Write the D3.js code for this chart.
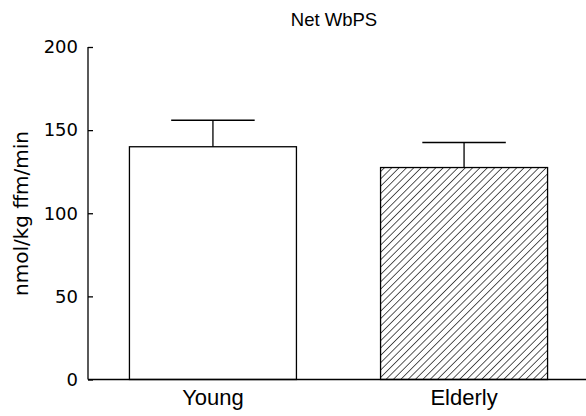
<!DOCTYPE html>
<html><head><meta charset="utf-8">
<script src="https://cdn.jsdelivr.net/npm/d3@7"></script>
<style>
html,body{margin:0;padding:0;background:#fff;}
text{fill:#000;}
</style></head>
<body>
<script>
const categories = ["Young", "Elderly"];
const means = [140, 127.5];
const errors = [16, 15];
const yTicks = [0, 50, 100, 150, 200];
const title = "Net WbPS";
const yLabel = "nmol/kg ffm/min";

const W = 586, H = 416;
const svg = d3.select("body").append("svg").attr("width", W).attr("height", H);
const sans = "'Liberation Sans', Arial, Helvetica, sans-serif";
const dv = "'DejaVu Sans', sans-serif";

const defs = svg.append("defs");
const pat = defs.append("pattern").attr("id","hatch").attr("patternUnits","userSpaceOnUse")
  .attr("width",5.2).attr("height",5.2).attr("patternTransform","rotate(45)");
pat.append("rect").attr("width",5.2).attr("height",5.2).attr("fill","#fff");
pat.append("line").attr("x1",0).attr("y1",0).attr("x2",0).attr("y2",5.2).attr("stroke","#000").attr("stroke-width",1.3);

const x = d3.scaleBand().domain(categories).range([88, 589]).paddingInner(0.335).paddingOuter(0.165);
const y = d3.scaleLinear().domain([0, 200]).range([379.5, 47]);

// bars
svg.selectAll("rect.bar").data(categories).enter().append("rect")
  .attr("x", d => x(d)).attr("width", x.bandwidth())
  .attr("y", (d,i) => y(means[i])).attr("height", (d,i) => y(0) - y(means[i]))
  .attr("fill", (d,i) => i === 0 ? "#fff" : "url(#hatch)")
  .attr("stroke", "#000").attr("stroke-width", 1.3);

// error bars
categories.forEach((c,i) => {
  const cx = x(c) + x.bandwidth()/2;
  const capW = x.bandwidth()/2;
  svg.append("line").attr("x1",cx).attr("x2",cx).attr("y1",y(means[i])).attr("y2",y(means[i]+errors[i]))
    .attr("stroke","#000").attr("stroke-width",1.3);
  svg.append("line").attr("x1",cx-capW/2).attr("x2",cx+capW/2).attr("y1",y(means[i]+errors[i])).attr("y2",y(means[i]+errors[i]))
    .attr("stroke","#000").attr("stroke-width",1.5);
});

// y axis
const yAxis = svg.append("g").attr("transform","translate(88,0)")
  .call(d3.axisLeft(y).tickValues(yTicks).tickSize(-5).tickPadding(10));
yAxis.attr("font-family", null).attr("font-size", null);
yAxis.select(".domain").attr("d", `M0,${y(200)}V${y(0)}`).attr("stroke-width",1.3);
yAxis.selectAll(".tick line").attr("stroke-width",1.3);
yAxis.selectAll(".tick text").style("font-family", dv).style("font-size","18px");

// x axis
const xAxis = svg.append("g").attr("transform",`translate(0,${y(0)})`)
  .call(d3.axisBottom(x).tickSize(0).tickPadding(0));
xAxis.attr("font-family", null).attr("font-size", null);
xAxis.select(".domain").attr("d","M88,0H586").attr("stroke-width",1.5);
xAxis.selectAll(".tick text").style("font-family", sans).style("font-size","22px")
  .attr("y", 25).attr("dy", null);

// title
svg.append("text").attr("x",334).attr("y",26).attr("text-anchor","middle")
  .style("font-family", sans).style("font-size","18.5px").text(title);

// y label
svg.append("text").attr("transform","translate(28,213.5) rotate(-90)").attr("text-anchor","middle")
  .style("font-family", dv).style("font-size","20px").text(yLabel);
</script>
</body></html>
